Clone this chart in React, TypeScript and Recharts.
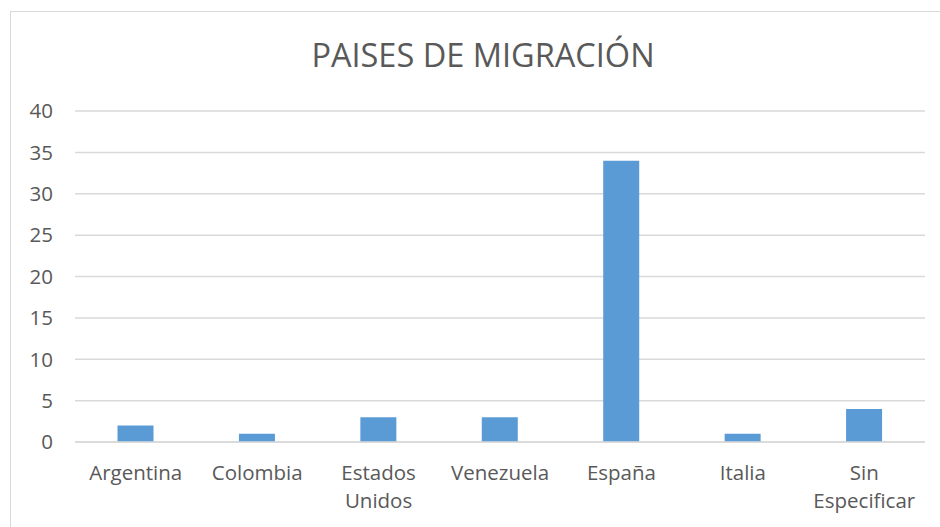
import { Bar, BarChart, CartesianGrid, XAxis, YAxis } from "recharts";

const countries = [
  "Argentina",
  "Colombia",
  "Estados Unidos",
  "Venezuela",
  "España",
  "Italia",
  "Sin Especificar",
];
const migrants = [2, 1, 3, 3, 34, 1, 4];
const yTicks = [0, 5, 10, 15, 20, 25, 30, 35, 40];

const data = countries.map((name, i) => ({ name, value: migrants[i] }));

const FONT = "'Open Sans', sans-serif";
const TEXT = "#595959";

interface TickProps {
  x?: number;
  y?: number;
  payload?: { value: string };
}

// Excel-style wrapping: two-word labels go on two lines
function CategoryTick({ x = 0, y = 0, payload }: TickProps) {
  const words = (payload?.value ?? "").split(" ");
  return (
    <text
      x={x}
      y={y}
      textAnchor="middle"
      fill={TEXT}
      fontFamily={FONT}
      fontSize={20.5}
    >
      {words.map((w, i) => (
        <tspan key={i} x={x} dy={i === 0 ? 26 : 28}>
          {w}
        </tspan>
      ))}
    </text>
  );
}

export default function App() {
  return (
    <div
      style={{
        position: "absolute",
        left: 0,
        top: 0,
        width: 940,
        height: 527,
        overflow: "hidden",
        background: "#fff",
      }}
    >
      <div
        style={{
          position: "absolute",
          left: 10,
          top: 11,
          width: 1000,
          height: 540,
          border: "1.5px solid #d9d9d9",
        }}
      />
      <div
        style={{
          position: "absolute",
          left: 283,
          top: 34,
          width: 400,
          textAlign: "center",
          fontFamily: FONT,
          fontSize: 32.5,
          lineHeight: "42px",
          color: TEXT,
        }}
      >
        PAISES DE MIGRACIÓN
      </div>
      <div style={{ position: "absolute", left: 0, top: 0 }}>
        <BarChart
          width={940}
          height={527}
          data={data}
          margin={{ top: 111, right: 15, left: 0, bottom: 0 }}
          barCategoryGap="35%"
        >
          <CartesianGrid
            stroke="#d9d9d9"
            strokeWidth={1.5}
            horizontal={true}
            vertical={false}
          />
          <XAxis
            dataKey="name"
            interval={0}
            axisLine={{ stroke: "#d9d9d9", strokeWidth: 1.5 }}
            tickLine={false}
            tickMargin={6}
            height={85}
            tick={<CategoryTick />}
          />
          <YAxis
            domain={[0, 40]}
            ticks={yTicks}
            interval={0}
            width={75}
            axisLine={false}
            tickLine={false}
            tickMargin={16}
            tick={{ fill: TEXT, fontSize: 20.5, fontFamily: FONT }}
          />
          <Bar dataKey="value" fill="#5b9bd5" isAnimationActive={false} />
        </BarChart>
      </div>
    </div>
  );
}
